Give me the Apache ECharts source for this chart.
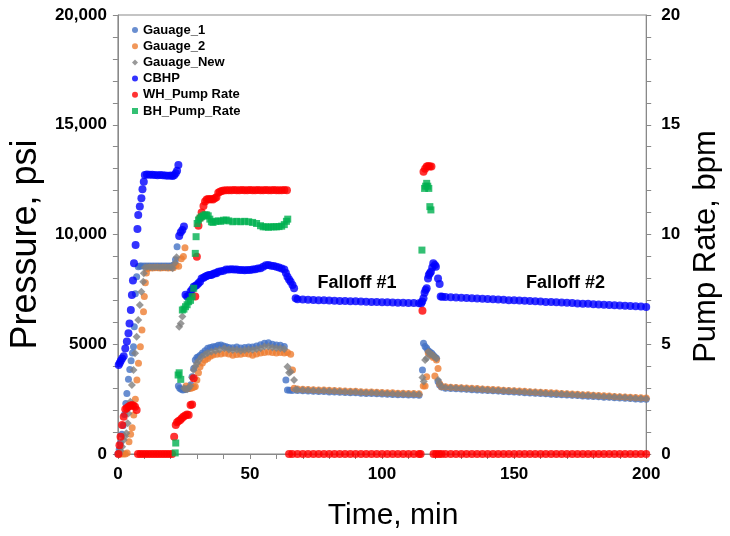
<!DOCTYPE html>
<html>
<head>
<meta charset="utf-8">
<script src="https://cdn.jsdelivr.net/npm/echarts@6/dist/echarts.min.js"></script>
<style>
html,body{margin:0;padding:0;background:#fff;}
#chart{width:730px;height:536px;}
</style>
</head>
<body>
<div id="chart"></div>
<script>
// ---------- DATA ----------
const seriesNames = ['Gauage_1','Gauage_2','Gauage_New','CBHP','WH_Pump Rate','BH_Pump_Rate'];
const xTicks = [0, 50, 100, 150, 200];
const leftTicks = [0, 5000, 10000, 15000, 20000];
const rightTicks = [0, 5, 10, 15, 20];

// falloff periods: shared time grids (min)
const f1Times = [68,70,72,74,76,78,80,82,84,86,88,90,92,94,96,98,100,102,104,106,108,110,112,114];
const f2Times = [124,126,128,130,132,134,136,138,140,142,144,146,148,150,152,154,156,158,160,162,164,166,168,170,172,174,176,178,180,182,184,186,188,190,192,194,196,198,200];

// Gauage_1 (psi)
const gauge1Pts = [[0,0],[0.5,200],[1,500],[1.5,900],[2,1300],[2.5,1800],[3,2300],[3.4,2760],[4,3400],[4.5,3850],[5,4250],[5.5,4600],[5.9,4890],[6.2,5800],[6.6,7300],[7.1,8080],[7.7,8530],[8.3,8560],[9,8570],[10,8560],[11,8560],[12,8570],[13,8560],[14,8560],[15,8570],[16,8560],[17,8560],[18,8570],[19,8560],[20,8570],[21,8600],[21.8,8850],[22.4,9440],
  [22.9,3100],[23.4,2990],[24,2950],[24.6,2920],[25.2,2950],[25.8,2950],[26.4,2980],[27,3000],[27.6,3150],[28.1,3520],[28.7,3900],[29.3,4280],[29.9,4400],[30.5,4430],[31.2,4500],[32,4600],[33,4700],[34,4820],[35,4850],[36,4890],[37,4900],[38,4950],[39,4970],[40,4920],[41,4890],[42,4850],[43.5,4840],[45,4870],[46.5,4830],[48,4850],[49.5,4880],[51,4870],[52.5,4920],[54,4980],[55.5,5050],[57,5070],[58.5,5000],[60,4970],[61.5,4950],[63,4900],[63.6,3370],[64.2,2920],[65,2900],[66,2895],
  [115.3,3830],[115.7,5040],[116.3,4900],[116.9,4815],[117.5,4700],[118.1,4650],[118.8,4590],[119.4,4500],[120,4420],[120.6,4360],[121.2,3300],[121.8,3140],[122.5,3050]];
const gauge1F1 = [2890,2880,2870,2860,2850,2845,2830,2820,2815,2800,2790,2785,2770,2760,2755,2740,2735,2720,2715,2700,2700,2690,2685,2680];
const gauge1F2 = [3000,2985,2975,2960,2945,2930,2920,2905,2890,2880,2865,2850,2835,2825,2810,2795,2780,2770,2755,2740,2725,2715,2700,2690,2675,2660,2645,2635,2620,2605,2590,2580,2565,2550,2540,2525,2510,2500,2490];

// Gauage_2 (psi)
const gauge2Pts = [[0.5,0],[1.2,0],[2,0],[2.8,0],[3.5,50],[4.2,560],[4.8,900],[5.4,1200],[6,1780],[6.6,2500],[7.2,3370],[7.8,4130],[8.5,4890],[9.1,5650],[9.7,6480],[10,7170],[10.4,7800],[10.8,8250],[11.3,8450],[12,8480],[13,8470],[14,8480],[15,8480],[16,8470],[17,8480],[18,8480],[19,8470],[20,8480],[21,8480],[22,8600],[23,8550],[24,8900],[24.8,9000],[25.4,9400],
  [25.8,3100],[26.4,3000],[27,2990],[27.6,3000],[28.2,3020],[28.8,3050],[29.3,3070],[29.9,3370],[30.5,3700],[31.1,3980],[32,4150],[33,4280],[34,4350],[35,4450],[36,4510],[37.5,4540],[39,4560],[40.5,4590],[42,4560],[43.5,4500],[45,4530],[46.5,4550],[48,4580],[49.5,4560],[51,4500],[52.5,4560],[54,4600],[55.5,4620],[57,4650],[58.5,4620],[60,4600],[61.5,4620],[63,4600],[64.2,4620],[65.4,4550],[66.1,3830],[66.7,3000],
  [115.6,3100],[116.3,3100],[116.9,3520],[117.5,4600],[118.1,4550],[118.8,4500],[119.4,4400],[120,3550],[120.6,4280],[121.2,3900],[121.8,3200],[122.5,3080]];
const gauge2F1 = [2960,2950,2940,2930,2920,2915,2900,2890,2885,2870,2860,2855,2840,2830,2825,2810,2805,2790,2785,2770,2770,2760,2755,2750];
const gauge2F2 = [3060,3045,3035,3020,3005,2990,2980,2965,2950,2940,2925,2910,2895,2885,2870,2855,2840,2830,2815,2800,2785,2775,2760,2750,2735,2720,2705,2695,2680,2665,2650,2640,2625,2610,2600,2585,2570,2560,2550];

// Gauage_New (psi)
const gaugeNewPts = [[0.5,0],[1,150],[1.6,330],[2.2,640],[2.7,800],[3.2,940],[3.7,1400],[4,1850],[4.7,2380],[5.3,3140],[5.9,3830],[6.5,4590],[7.1,5340],[7.7,6100],[8.3,6790],[8.9,7390],[9.6,7850],[9.8,8230],[10.2,8500],[11,8520],[12,8520],[13,8510],[14,8520],[15,8520],[16,8510],[17,8520],[18,8520],[19,8510],[20,8520],[20.7,8460],[21.6,8700],[22.2,8960],
  [23.2,5800],[23.8,5950],[24.4,6260],[25,3000],[25.6,2950],[26.2,2950],[26.8,2990],[27.4,3100],[28.1,3500],[28.7,3830],[29.3,4000],[29.9,4130],[30.5,4250],[31.7,4430],[33,4550],[34,4600],[35.4,4660],[37,4700],[38.5,4750],[40.3,4820],[42,4760],[43.5,4740],[45,4750],[46.5,4700],[48,4740],[49.5,4760],[51,4750],[52.5,4780],[54,4820],[55.5,4900],[57,4900],[58.5,4850],[60,4830],[61.5,4820],[63,4780],[64.2,3980],[64.8,3700],[65.4,3750],[66.7,3370],[67.3,2940],
  [115.3,3480],[115.8,3300],[116.3,4280],[116.9,4360],[117.5,4660],[118.1,4600],[118.5,4540],[119.3,4480],[120,4430],[120.6,4350],[121.2,3370],[121.8,3200],[122.5,3060]];
const gaugeNewF1 = [2925,2915,2905,2895,2885,2880,2865,2855,2850,2835,2825,2820,2805,2795,2790,2775,2770,2755,2750,2735,2735,2725,2720,2715];
const gaugeNewF2 = [3030,3015,3005,2990,2975,2960,2950,2935,2920,2910,2895,2880,2865,2855,2840,2825,2810,2800,2785,2770,2755,2745,2730,2720,2705,2690,2675,2665,2650,2635,2620,2610,2595,2580,2570,2555,2540,2530,2520];

// CBHP (psi)
const cbhpPts = [[0.3,4050],[0.7,4150],[1.1,4250],[1.6,4350],[2.2,4450],[2.8,4810],[3.4,5120],[4,5500],[4.4,5950],[4.9,6560],[5.3,7240],[5.7,7900],[6.1,8690],[6.7,9520],[7.4,10250],[7.7,10890],[8.3,11270],[8.9,11650],[9.3,12060],[9.8,12400],[10.2,12710],[11,12730],[12,12720],[13,12720],[14,12710],[15,12700],[16,12710],[17,12700],[18,12690],[19,12680],[20,12690],[20.7,12670],[21.3,12700],[21.9,12790],[22.4,12900],[22.9,13170],
  [23.2,9930],[23.8,10100],[24.4,10200],[25,10360],[25.6,7250],[26.2,7170],[26.8,7200],[27.5,7400],[28.1,7500],[28.7,7620],[29.3,7650],[29.9,7700],[30.5,7780],[31.1,7850],[31.7,8000],[32.4,8030],[33,8080],[33.6,8110],[34.2,8140],[34.8,8160],[35.4,8160],[36,8200],[36.7,8230],[37.3,8230],[38,8300],[39,8330],[40,8350],[41,8400],[42,8410],[43,8420],[44,8410],[45,8400],[46,8380],[47,8380],[48,8370],[49,8380],[50,8380],[51,8400],[52,8420],[53,8450],[54,8460],[55,8530],[56,8600],[57,8610],[58,8580],[59,8560],[60,8530],[61,8500],[62,8450],[63,8410],[63.6,8250],[64.2,8080],[64.8,7950],[65.4,7850],[66.1,7700],[66.7,7550],[67.3,7090],
  [114.8,6860],[115.2,6950],[115.7,7090],[116.1,7350],[116.5,7470],[116.9,7550],[117.4,8000],[117.7,8155],[118.1,8230],[118.5,8305],[119,8500],[119.4,8690],[120,8610],[120.4,8530],[121.2,8000],[121.8,7745],[122.2,7170],[122.8,7160]];
const cbhpF1 = [7050,7040,7030,7020,7010,7000,6990,6985,6975,6970,6960,6955,6945,6940,6930,6925,6915,6910,6900,6895,6890,6880,6875,6865];
const cbhpF2 = [7150,7140,7130,7115,7105,7095,7080,7070,7060,7050,7035,7025,7010,7000,6990,6980,6965,6955,6945,6930,6920,6910,6900,6885,6875,6860,6850,6840,6825,6815,6800,6790,6780,6765,6755,6740,6730,6715,6700];

// WH_Pump Rate (bpm)
const whPts = [[0.2,0],[0.6,0.4],[1,0.79],[1.6,1.32],[2.2,1.7],[2.8,2.04],[3.4,2.1],[4,2.15],[4.6,2.2],[5.3,2.23],[5.9,2.2],[6.5,2.15],[7.1,2.0],[7.6,0],[8.5,0],[9.5,0],[10.5,0],[11.5,0],[12.5,0],[13.5,0],[14.5,0],[15.5,0],[16.5,0],[17.5,0],[18.5,0],[19.5,0],[20.5,0],
  [21.3,0.79],[21.9,1.32],[22.4,1.45],[23,1.5],[23.6,1.55],[24.2,1.63],[24.8,1.7],[25.5,1.75],[26.2,1.8],[26.8,1.78],[27.5,2.23],[28.1,2.25],[28.7,3.45],[29.3,7.17],[29.9,8.99],[30.5,10.4],[31.1,10.75],[31.7,11.0],[32.4,11.3],[33,11.5],[33.6,11.6],[34.2,11.62],[34.8,11.6],[35.4,11.62],[36,11.6],[36.7,11.65],[37.3,11.7],[38,11.9],[38.6,11.95],[39.3,11.98],[40,12],[41,12.02],[42,12.02],[43,12.02],[44,12.03],[45,12.02],[46,12.02],[47,12.03],[48,12.02],[49,12.02],[50,12.03],[51,12.02],[52,12.02],[53,12.03],[54,12.02],[55,12.02],[56,12.03],[57,12.02],[58,12.02],[59,12.03],[60,12.02],[61,12.02],[62,12.02],[63,12.03],[64,12.02],[64.8,0],[66,0],
  [114.6,0],[115.3,6.53],[115.7,12.86],[116.3,13.0],[116.9,13.1],[117.5,13.12],[118.1,13.1],[118.7,13.1],[119.5,0],[120.5,0],[121.5,0],[122.5,0]];
const whF1 = [0,0,0,0,0,0,0,0,0,0,0,0,0,0,0,0,0,0,0,0,0,0,0,0];
const whF2 = [0,0,0,0,0,0,0,0,0,0,0,0,0,0,0,0,0,0,0,0,0,0,0,0,0,0,0,0,0,0,0,0,0,0,0,0,0,0,0];

// BH_Pump_Rate (bpm)
const bhPts = [[21.7,0.05],[21.9,0.5],[22.8,3.6],[23.2,3.7],[23.8,3.4],[24.4,6.56],[25,6.6],[25.6,6.71],[26.2,6.8],[26.8,6.94],[27.5,7.0],[28.1,7.17],[28.7,7.55],[29.3,9.14],[29.6,9.9],[30,10.5],[30.5,10.66],[31.1,10.75],[31.7,10.81],[32.4,10.85],[33,10.9],[33.6,10.89],[34.2,10.85],[34.8,10.7],[35.4,10.58],[36,10.55],[37,10.6],[38,10.62],[39,10.6],[40,10.65],[41,10.66],[42,10.62],[43.5,10.58],[45,10.6],[46.5,10.58],[48,10.6],[49.5,10.58],[51,10.55],[52.5,10.5],[54,10.4],[55,10.35],[56,10.35],[57,10.33],[58,10.35],[59,10.35],[60,10.35],[61,10.36],[62,10.38],[63,10.45],[63.8,10.6],[64.3,10.7],
  [115.1,9.29],[116.1,12.1],[116.5,12.2],[116.9,12.33],[117.3,12.2],[117.7,12.1],[118.1,11.27],[118.5,11.12]];

const annotations = [{text:'Falloff #1', t:90.5, p:7800},{text:'Falloff #2', t:169.5, p:7800}];

// ---------- BUILD ----------
function withFalloffs(pts, f1, f2){
  const out = pts.slice();
  f1Times.forEach((t,i)=>out.push([t,f1[i]]));
  f2Times.forEach((t,i)=>out.push([t,f2[i]]));
  out.sort((a,b)=>a[0]-b[0]);
  return out;
}
const FONT = "'Liberation Sans', Arial, Helvetica, sans-serif";
const AX = '#898989';
function fmt(v){ return v >= 10000 ? String(v).replace(/\B(?=(\d{3})+(?!\d))/g, ',') : String(v); }

const chart = echarts.init(document.getElementById('chart'), null, {renderer:'canvas'});
const axisCommon = {
  axisLine:{show:true, onZero:false, lineStyle:{color:AX, width:1}},
  axisTick:{show:true, inside:false, length:5, lineStyle:{color:AX}},
  minorTick:{show:true, splitNumber:5, length:5, lineStyle:{color:AX}},
  splitLine:{show:false}
};
const labelCommon = {fontFamily:FONT, fontSize:17, fontWeight:'bold', color:'#000'};

chart.setOption({
  animation:false,
  backgroundColor:'#fff',
  grid:{left:112, right:73, top:15, bottom:82, show:true, borderColor:AX, borderWidth:1, backgroundColor:'transparent'},
  legend:{
    data:seriesNames, orient:'vertical', left:127, top:18,
    itemWidth:6, itemHeight:6, itemGap:2.2,
    textStyle:{fontFamily:FONT, fontSize:13, fontWeight:'bold', color:'#000', lineHeight:14}
  },
  xAxis:Object.assign({}, axisCommon, {
    type:'value', min:xTicks[0], max:xTicks[xTicks.length-1], interval:xTicks[1]-xTicks[0],
    axisLabel:Object.assign({}, labelCommon, {margin:12}),
    name:'Time, min', nameLocation:'middle', nameGap:47,
    nameTextStyle:{fontFamily:FONT, fontSize:30, color:'#000', padding:[0,0,0,22]}
  }),
  yAxis:[
    Object.assign({}, axisCommon, {
      type:'value', min:leftTicks[0], max:leftTicks[leftTicks.length-1], interval:leftTicks[1]-leftTicks[0],
      axisLabel:Object.assign({}, labelCommon, {margin:11, formatter:fmt}),
      name:'Pressure, psi', nameLocation:'middle', nameGap:66,
      nameTextStyle:{fontFamily:FONT, fontSize:36, color:'#000', padding:[0,20,0,0]}
    }),
    Object.assign({}, axisCommon, {
      type:'value', position:'right', min:rightTicks[0], max:rightTicks[rightTicks.length-1], interval:rightTicks[1]-rightTicks[0],
      axisLabel:Object.assign({}, labelCommon, {margin:15}),
      name:'Pump Rate, bpm', nameLocation:'middle', nameGap:38,
      nameTextStyle:{fontFamily:FONT, fontSize:31, color:'#000', padding:[0,24,0,0]}
    })
  ],
  series:[
    {name:seriesNames[0], type:'scatter', yAxisIndex:0, symbol:'circle', symbolSize:7, itemStyle:{color:'#4472C4'}, data:withFalloffs(gauge1Pts,gauge1F1,gauge1F2)},
    {name:seriesNames[1], type:'scatter', yAxisIndex:0, symbol:'circle', symbolSize:7, itemStyle:{color:'#ED7D31'}, data:withFalloffs(gauge2Pts,gauge2F1,gauge2F2)},
    {name:seriesNames[2], type:'scatter', yAxisIndex:0, symbol:'diamond', symbolSize:8, itemStyle:{color:'#7F7F7F'}, data:withFalloffs(gaugeNewPts,gaugeNewF1,gaugeNewF2)},
    {name:seriesNames[3], type:'scatter', yAxisIndex:0, symbol:'circle', symbolSize:8, itemStyle:{color:'#0000FF'}, data:withFalloffs(cbhpPts,cbhpF1,cbhpF2)},
    {name:seriesNames[4], type:'scatter', yAxisIndex:1, symbol:'circle', symbolSize:8, itemStyle:{color:'#FF0000'}, data:withFalloffs(whPts,whF1,whF2)},
    {name:seriesNames[5], type:'scatter', yAxisIndex:1, symbol:'rect', symbolSize:7, itemStyle:{color:'#00B050'}, data:bhPts}
  ]
});

chart.setOption({
  graphic: annotations.map(a=>{
    const p = chart.convertToPixel({xAxisIndex:0, yAxisIndex:0}, [a.t, a.p]);
    return {type:'text', x:p[0], y:p[1], style:{text:a.text, font:"bold 18px "+FONT, fill:'#000', textAlign:'center', textVerticalAlign:'middle'}};
  })
});
</script>
</body>
</html>
